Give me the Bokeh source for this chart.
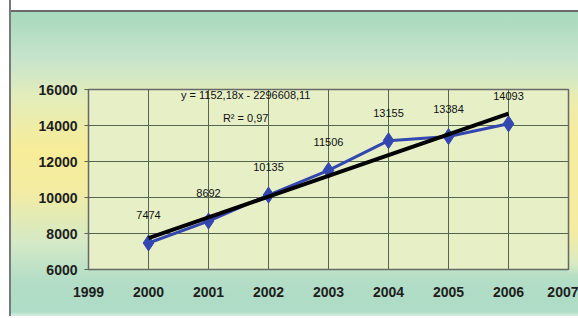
import numpy as np
from bokeh.plotting import figure
from bokeh.models import FixedTicker, Label, ColumnDataSource
from bokeh.core.properties import value
from bokeh.embed import file_html
from bokeh.resources import INLINE

# ---- data ----
years = [2000, 2001, 2002, 2003, 2004, 2005, 2006]
values = [7474, 8692, 10135, 11506, 13155, 13384, 14093]
x_ticks = [1999, 2000, 2001, 2002, 2003, 2004, 2005, 2006, 2007]
y_ticks = [6000, 8000, 10000, 12000, 14000, 16000]
equation_text = "y = 1152,18x - 2296608,11"
r2_text = "R\u00b2 = 0,97"

# linear trend (least squares) from the data
slope, intercept = np.polyfit(years, values, 1)
trend = [slope * x + intercept for x in years]

src = ColumnDataSource(dict(x=years, y=values, lbl=[str(v) for v in values]))

FONT = "Liberation Sans"

p = figure(width=578, height=316, output_backend="svg", toolbar_location=None,
           x_range=(1999, 2007), y_range=(6000, 16000),
           min_border_left=88, min_border_right=10, min_border_top=89, min_border_bottom=47)

p.border_fill_color = None
p.background_fill_color = "#e6efc6"
p.outline_line_color = "#686868"
p.outline_line_width = 1.5

p.styles = {
    "background": (
        "linear-gradient(to right, #ffffff 0px, #ffffff 9px, #7a7a7a 9px, #7a7a7a 11px, transparent 11px),"
        "linear-gradient(to bottom, transparent 0px, transparent 85px, #eeedaa 105px, #f6ec9c 140px, "
        "#f4eca0 230px, #dcebc0 262px, transparent 275px) right top / 10px 100% no-repeat,"
        "linear-gradient(to bottom, #ffffff 0px, #ffffff 10px, #6a6a6a 10px, #6a6a6a 12px, "
        "#a7d9bd 12px, #c6e4cc 58px, #e4edba 98px, #f7ec98 150px, #f3eca2 190px, "
        "#d4e9c6 243px, #b2ddc6 283px, #aedcc6 312px, #c9e8d8 314px, #d2ecdf 316px)"
    ),
}

p.xgrid.ticker = FixedTicker(ticks=x_ticks)
p.ygrid.ticker = FixedTicker(ticks=y_ticks)
p.xgrid.grid_line_color = "#55654f"
p.ygrid.grid_line_color = "#55654f"
p.xgrid.grid_line_width = 1
p.ygrid.grid_line_width = 1

p.xaxis.ticker = FixedTicker(ticks=x_ticks)
p.yaxis.ticker = FixedTicker(ticks=y_ticks)
for ax in (p.xaxis, p.yaxis):
    ax.axis_line_color = None
    ax.minor_tick_line_color = None
    ax.major_tick_in = 0
    ax.major_label_text_font = FONT
    ax.major_label_text_font_style = "bold"
    ax.major_label_text_font_size = "14px"
    ax.major_label_text_color = "#1e1e1e"
p.yaxis.major_tick_out = 4
p.yaxis.major_tick_line_color = "#55654f"
p.yaxis.major_label_standoff = 7
p.xaxis.major_tick_out = 0
p.xaxis.major_tick_line_color = None
p.xaxis.major_label_standoff = 17

# series
p.line("x", "y", source=src, line_color="#3446b0", line_width=3)
p.scatter("x", "y", source=src, marker="diamond", size=16,
          fill_color="#3446b0", line_color="#3446b0")

# trend line
p.line(years, trend, line_color="#000000", line_width=4)

# data labels
p.text("x", "y", text="lbl", source=src, y_offset=-28,
       text_align="center", text_baseline="middle",
       text_font=value(FONT), text_font_size="11px", text_color="#111111")

# equation labels
p.add_layout(Label(x=2001.62, y=15667, text=equation_text, text_align="center",
                   text_baseline="middle", text_font=FONT, text_font_size="11px",
                   text_color="#111111"))
p.add_layout(Label(x=2001.62, y=14389, text=r2_text, text_align="center",
                   text_baseline="middle", text_font=FONT, text_font_size="11px",
                   text_color="#111111"))

open("out.html", "w").write(file_html(p, INLINE))
